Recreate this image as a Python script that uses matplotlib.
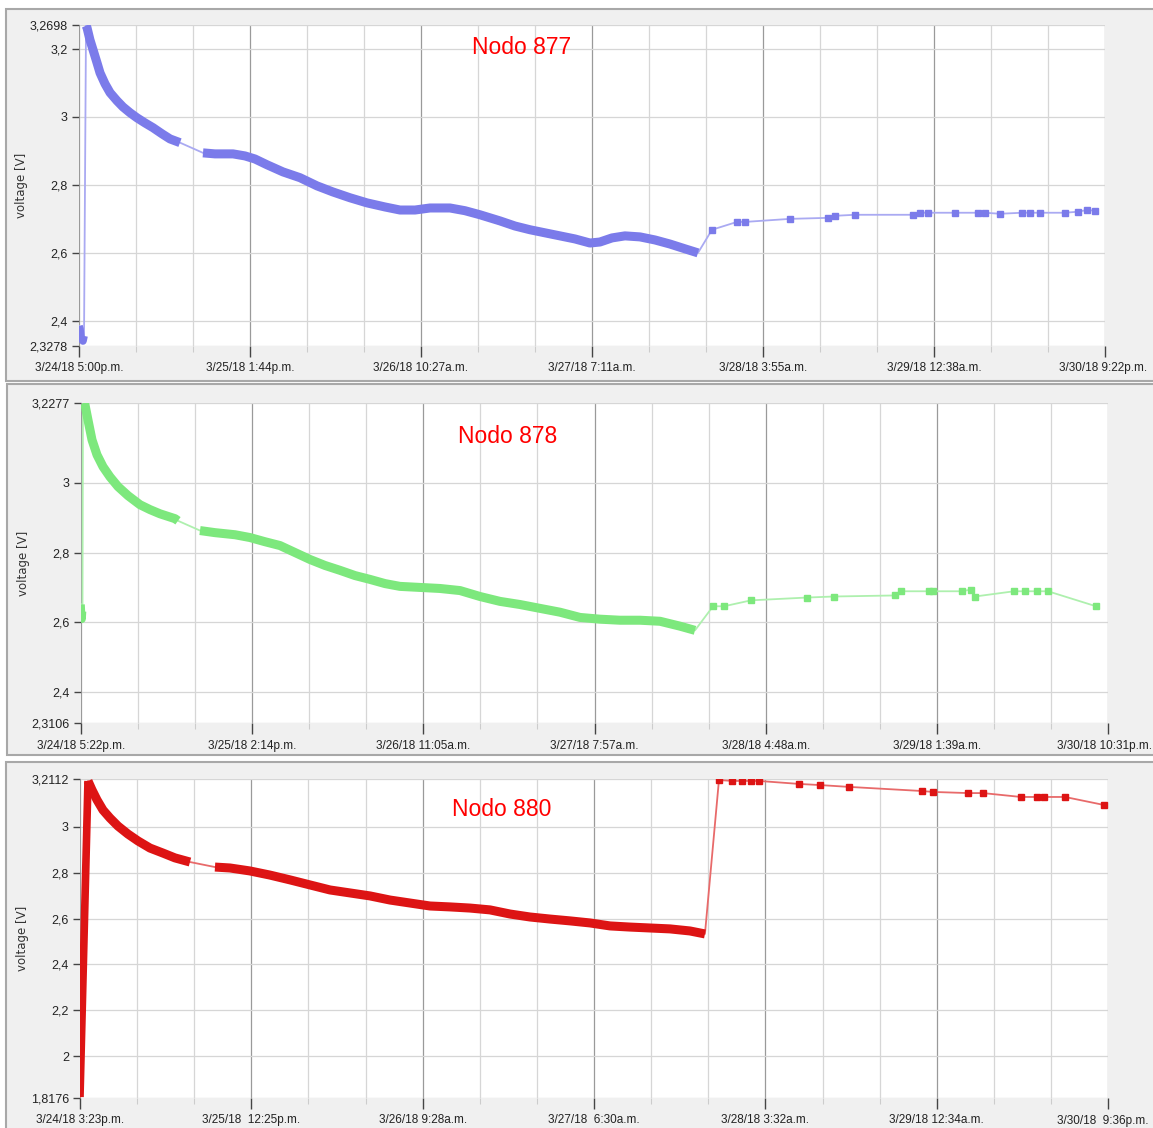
import numpy as np
import matplotlib
matplotlib.use("Agg")
import matplotlib.pyplot as plt
from matplotlib.patches import Rectangle
from matplotlib.ticker import FixedLocator

# ---- Nodo 877 (hours since 3/24/18 5:00p.m.) ----
t877_start = [0.0, 0.12, 0.24, 0.48, 0.61]
v877_start = [2.385, 2.376, 2.350, 2.341, 2.356]
t877_a = [0.85, 0.97, 1.33, 1.70, 2.18, 2.55, 3.15, 3.76, 4.61, 5.33, 6.18, 7.03, 8.0, 8.97,
          10.06, 11.03, 12.24]
v877_a = [3.268, 3.262, 3.226, 3.197, 3.159, 3.129, 3.097, 3.071, 3.047, 3.029, 3.012, 2.997,
          2.982, 2.968, 2.950, 2.935, 2.924]
t877_b = [15.03, 16.48, 18.67, 20.12, 21.33, 22.79, 24.73, 26.79, 28.85, 30.79, 32.85, 34.91,
          37.09, 38.91, 40.73, 42.55, 44.97, 46.79, 48.61, 51.03, 52.85, 54.67, 56.48, 58.30,
          60.12, 61.94, 63.15, 64.61, 66.18, 68.0, 69.82, 71.64, 73.45, 75.03]
v877_b = [2.894, 2.891, 2.891, 2.885, 2.876, 2.859, 2.838, 2.821, 2.797, 2.779, 2.762, 2.747,
          2.735, 2.726, 2.726, 2.732, 2.732, 2.724, 2.712, 2.694, 2.679, 2.668, 2.659, 2.650,
          2.641, 2.629, 2.632, 2.644, 2.650, 2.647, 2.638, 2.626, 2.612, 2.600]
t877_s = [76.73, 79.76, 80.73, 86.18, 90.79, 91.64, 94.06, 101.09, 101.94, 102.91, 106.18,
          108.97, 109.82, 111.64, 114.30, 115.27, 116.48, 119.52, 121.09, 122.18, 123.15]
v877_s = [2.668, 2.691, 2.691, 2.700, 2.703, 2.709, 2.712, 2.712, 2.718, 2.718, 2.718, 2.718,
          2.718, 2.715, 2.718, 2.718, 2.718, 2.718, 2.721, 2.726, 2.724]
ticks877 = [0, 20.73, 41.45, 62.18, 82.92, 103.63, 124.37]
labels877 = ["3/24/18 5:00p.m.", "3/25/18 1:44p.m.", "3/26/18 10:27a.m.", "3/27/18 7:11a.m.",
             "3/28/18 3:55a.m.", "3/29/18 12:38a.m.", "3/30/18 9:22p.m."]
yticks877 = [2.3278, 2.4, 2.6, 2.8, 3.0, 3.2, 3.2698]
ylabels877 = ["2,3278", "2,4", "2,6", "2,8", "3", "3,2", "3,2698"]

# ---- Nodo 878 (hours since 3/24/18 5:22p.m.) ----
t878_start = [0.0, 0.06, 0.12, 0.18]
v878_start = [2.651, 2.623, 2.609, 2.631]
t878_a = [0.24, 0.49, 0.85, 1.34, 1.95, 2.68, 3.53, 4.51, 5.73, 7.19, 8.41, 9.63, 11.46, 11.82]
v878_a = [3.229, 3.223, 3.180, 3.123, 3.080, 3.046, 3.017, 2.989, 2.963, 2.937, 2.923, 2.911,
          2.897, 2.891]
t878_b = [14.50, 16.33, 18.77, 20.59, 22.42, 24.25, 26.08, 27.91, 29.73, 31.56, 33.39, 35.22,
          37.05, 38.87, 41.31, 43.75, 46.19, 48.62, 51.06, 53.50, 55.93, 58.37, 60.81, 63.25,
          65.68, 68.12, 70.56, 72.99, 74.82]
v878_b = [2.863, 2.857, 2.851, 2.843, 2.831, 2.820, 2.800, 2.780, 2.763, 2.749, 2.734, 2.723,
          2.711, 2.703, 2.700, 2.697, 2.691, 2.674, 2.660, 2.651, 2.640, 2.629, 2.614, 2.609,
          2.606, 2.606, 2.603, 2.589, 2.577]
t878_s = [77.02, 78.36, 81.65, 88.47, 91.76, 99.20, 99.93, 103.34, 103.83, 107.36, 108.46,
          108.95, 113.70, 115.04, 116.50, 117.84, 123.69]
v878_s = [2.646, 2.646, 2.663, 2.671, 2.674, 2.677, 2.689, 2.689, 2.689, 2.689, 2.694, 2.674,
          2.689, 2.689, 2.689, 2.689, 2.646]
ticks878 = [0, 20.87, 41.72, 62.58, 83.43, 104.28, 125.15]
labels878 = ["3/24/18 5:22p.m.", "3/25/18 2:14p.m.", "3/26/18 11:05a.m.", "3/27/18 7:57a.m.",
             "3/28/18 4:48a.m.", "3/29/18 1:39a.m.", "3/30/18 10:31p.m."]
yticks878 = [2.3106, 2.4, 2.6, 2.8, 3.0, 3.2277]
ylabels878 = ["2,3106", "2,4", "2,6", "2,8", "3", "3,2277"]

# ---- Nodo 880 (hours since 3/24/18 3:23p.m.) ----
t880_start = [0.0, 0.98]
v880_start = [1.821, 3.201]
t880_a = [0.98, 1.47, 2.09, 2.82, 3.68, 4.66, 5.89, 7.12, 8.59, 10.19, 11.66, 13.50]
v880_a = [3.201, 3.162, 3.118, 3.074, 3.039, 3.004, 2.969, 2.939, 2.908, 2.886, 2.865, 2.847]
t880_b = [16.57, 18.41, 20.86, 23.32, 25.78, 28.23, 30.69, 33.15, 35.60, 38.06, 40.51, 42.97,
          45.42, 47.88, 50.33, 52.79, 55.24, 57.70, 60.15, 62.61, 65.06, 67.52, 69.97, 72.43,
          74.88, 76.72]
v880_b = [2.825, 2.821, 2.808, 2.790, 2.769, 2.747, 2.725, 2.712, 2.699, 2.681, 2.668, 2.655,
          2.651, 2.646, 2.638, 2.620, 2.607, 2.598, 2.590, 2.581, 2.568, 2.563, 2.559, 2.555,
          2.546, 2.533]
t880_s = [78.44, 80.04, 81.27, 82.37, 83.35, 88.26, 90.84, 94.40, 103.36, 104.71, 109.01,
          110.85, 115.52, 117.48, 118.34, 120.92, 125.71]
v880_s = [3.205, 3.201, 3.201, 3.201, 3.201, 3.188, 3.183, 3.175, 3.157, 3.153, 3.148, 3.148,
          3.131, 3.131, 3.131, 3.131, 3.096]
ticks880 = [0, 21.03, 42.08, 63.10, 84.15, 105.18, 126.2]
labels880 = ["3/24/18 3:23p.m.", "3/25/18  12:25p.m.", "3/26/18 9:28a.m.", "3/27/18  6:30a.m.",
             "3/28/18 3:32a.m.", "3/29/18 12:34a.m.", "3/30/18  9:36p.m."]
yticks880 = [1.8176, 2.0, 2.2, 2.4, 2.6, 2.8, 3.0, 3.2112]
ylabels880 = ["1,8176", "2", "2,2", "2,4", "2,6", "2,8", "3", "3,2112"]

W, H = 1153, 1128
tickfont = ["Liberation Sans Narrow", "Liberation Sans", "DejaVu Sans"]

fig = plt.figure(figsize=(W / 100, H / 100), dpi=100)
fig.patch.set_facecolor("white")

# gray panel frames (pixel boxes: x0, y_top, x1, y_bottom)
for x0, y0, x1, y1 in [(6, 9, 1160, 381), (7, 384, 1160, 755), (6, 762, 1160, 1135)]:
    fig.add_artist(Rectangle((x0 / W, 1 - y1 / H), (x1 - x0) / W, (y1 - y0) / H,
                             transform=fig.transFigure, facecolor="#f0f0f0",
                             edgecolor="#a8a8a8", linewidth=1.5, zorder=0))


def panel(box, t_start, v_start, t_a, v_a, t_b, v_b, t_s, v_s, ticks, labels, yt, yl,
          dense_col, thin_col, ms, title, tpos, last_dx):
    left, top, right, bottom = box
    ax = fig.add_axes([left / W, 1 - bottom / H, (right - left) / W, (bottom - top) / H])
    ax.set_facecolor("white")
    for s in ax.spines.values():
        s.set_visible(False)

    t_all = list(t_start) + list(t_a) + list(t_b) + list(t_s)
    v_all = list(v_start) + list(v_a) + list(v_b) + list(v_s)
    ax.plot(t_all, v_all, color=thin_col, lw=1.3, zorder=3)
    ax.plot(t_start, v_start, color=dense_col, lw=5.5, zorder=4, solid_capstyle="butt")
    ax.plot(t_a, v_a, color=dense_col, lw=6.5, zorder=4, solid_capstyle="butt")
    ax.plot(t_b, v_b, color=dense_col, lw=6.5, zorder=4, solid_capstyle="butt")
    ax.plot(t_s, v_s, ls="none", marker="s", ms=ms, color=dense_col, zorder=4)

    ax.set_xlim(ticks[0], ticks[-1])
    ax.set_ylim(yt[0], yt[-1])
    ax.set_xticks(ticks)
    # last label is placed by hand so it stays inside the picture
    ax.set_xticklabels(labels[:-1] + [""], fontfamily=tickfont, fontsize=8.5, color="#222222")
    ax.annotate(labels[-1], xy=(ticks[-1], yt[0]), xycoords="data",
                xytext=(last_dx, -17), textcoords="offset pixels",
                ha="right", va="top", fontfamily=tickfont, fontsize=8.5, color="#222222",
                annotation_clip=False)
    minors = []
    for a, b in zip(ticks[:-1], ticks[1:]):
        minors += [a + (b - a) / 3, a + 2 * (b - a) / 3]
    ax.xaxis.set_minor_locator(FixedLocator(minors))
    ax.set_yticks(yt)
    ax.set_yticklabels(yl, fontfamily=tickfont, fontsize=9, color="#222222")

    ax.grid(True, axis="x", which="major", color="#9a9a9a", lw=0.9, zorder=1)
    ax.grid(True, axis="x", which="minor", color="#d6d6d6", lw=0.9, zorder=1)
    ax.grid(True, axis="y", which="major", color="#d6d6d6", lw=0.9, zorder=1)
    ax.set_axisbelow(True)
    ax.tick_params(axis="x", which="major", length=8, width=1, color="#444444", pad=4)
    ax.tick_params(axis="x", which="minor", length=4, width=0.8, color="#cccccc")
    ax.tick_params(axis="y", length=5, width=1, color="#444444", pad=3)

    ax.set_ylabel("voltage [V]", fontsize=8.5, color="#333333")
    ax.yaxis.set_label_coords(-0.05, 0.5)
    ax.text(tpos[0], tpos[1], title, transform=ax.transAxes, color="red", fontsize=16.5,
            fontfamily=["Liberation Sans", "DejaVu Sans"], ha="center", va="center")
    return ax


panel((79, 25, 1105, 345.5), t877_start, v877_start, t877_a, v877_a, t877_b, v877_b,
      t877_s, v877_s, ticks877, labels877, yticks877, ylabels877,
      "#7b7bea", "#aaaaf2", 4, "Nodo 877", (0.431, 0.931), 42)
panel((81, 403.3, 1108, 723.3), t878_start, v878_start, t878_a, v878_a, t878_b, v878_b,
      t878_s, v878_s, ticks878, labels878, yticks878, ylabels878,
      "#7de87d", "#aef0ae", 4.5, "Nodo 878", (0.415, 0.895), 44)
panel((80, 778.6, 1108, 1097.8), t880_start, v880_start, t880_a, v880_a, t880_b, v880_b,
      t880_s, v880_s, ticks880, labels880, yticks880, ylabels880,
      "#dd1414", "#e86a6a", 5, "Nodo 880", (0.41, 0.902), 40)

plt.savefig("out.png", dpi=100, facecolor=fig.get_facecolor())
